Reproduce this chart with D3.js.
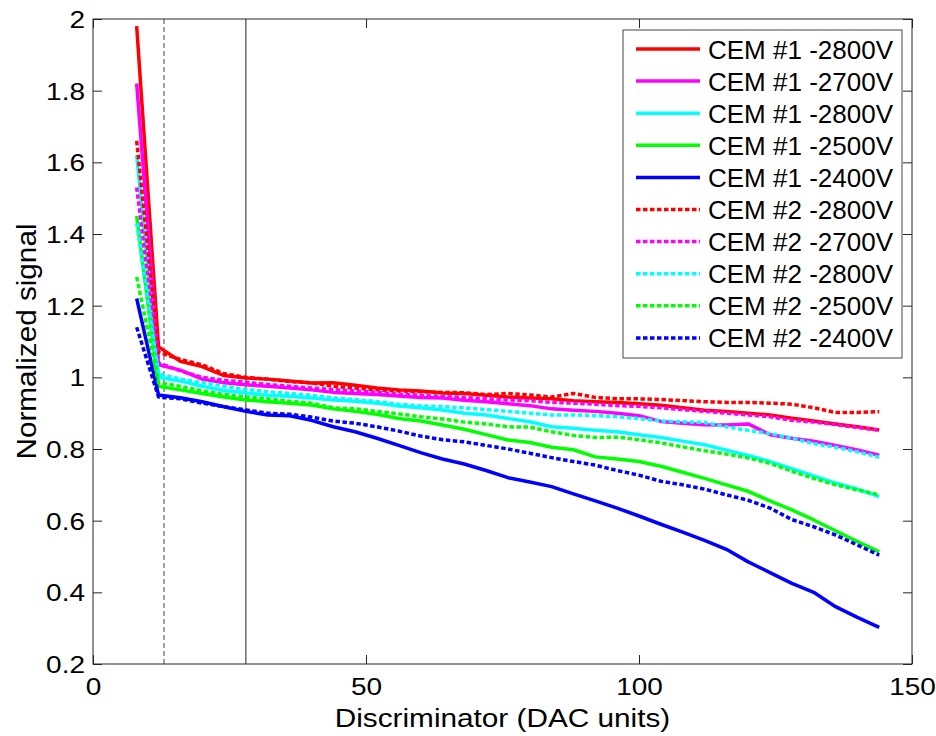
<!DOCTYPE html>
<html><head><meta charset="utf-8">
<script src="https://cdn.jsdelivr.net/npm/d3@7"></script>
<style>
body{margin:0;background:#fff;}
svg text{font-family:Arial,"Liberation Sans",Helvetica,sans-serif;fill:#000;}
</style></head><body>
<svg id="c" width="936" height="736"></svg>
<script>
const discrim = [8,12,16,20,24,28,32,36,40,44,48,52,56,60,64,68,72,76,80,84,88,92,96,100,104,108,112,116,120,124,128,132,136,140,144];
const cem1_2800a = [1.98,1.085,1.045,1.03,1.005,0.998,0.995,0.99,0.984,0.985,0.978,0.97,0.965,0.962,0.956,0.955,0.95,0.945,0.942,0.94,0.935,0.932,0.93,0.926,0.922,0.915,0.908,0.905,0.9,0.895,0.886,0.878,0.87,0.862,0.853];
const cem1_2700 = [1.82,1.035,1.02,0.995,0.985,0.979,0.975,0.97,0.965,0.958,0.955,0.952,0.948,0.944,0.942,0.936,0.932,0.926,0.921,0.912,0.908,0.905,0.9,0.893,0.877,0.872,0.868,0.867,0.87,0.84,0.83,0.822,0.81,0.797,0.783];
const cem1_2800b = [1.62,1.0,0.99,0.975,0.963,0.956,0.95,0.947,0.942,0.937,0.933,0.928,0.92,0.915,0.909,0.9,0.895,0.885,0.876,0.862,0.858,0.852,0.848,0.84,0.832,0.822,0.812,0.797,0.782,0.765,0.745,0.725,0.705,0.688,0.667];
const cem1_2500 = [1.45,0.975,0.965,0.955,0.945,0.937,0.932,0.928,0.923,0.912,0.905,0.897,0.885,0.878,0.867,0.855,0.84,0.825,0.818,0.805,0.798,0.778,0.772,0.765,0.752,0.735,0.718,0.7,0.682,0.655,0.63,0.602,0.572,0.542,0.513];
const cem1_2400 = [1.22,0.951,0.943,0.932,0.918,0.905,0.895,0.893,0.88,0.862,0.848,0.83,0.81,0.79,0.772,0.758,0.74,0.72,0.708,0.695,0.675,0.655,0.635,0.613,0.59,0.568,0.545,0.52,0.485,0.455,0.425,0.4,0.36,0.33,0.302];
const cem2_2800a = [1.66,1.07,1.05,1.035,1.01,1.0,0.995,0.988,0.985,0.975,0.97,0.965,0.962,0.96,0.958,0.957,0.952,0.955,0.951,0.945,0.955,0.944,0.94,0.94,0.938,0.935,0.932,0.93,0.93,0.928,0.925,0.915,0.902,0.902,0.904];
const cem2_2700 = [1.53,1.04,1.018,1.0,0.992,0.986,0.98,0.975,0.97,0.966,0.962,0.958,0.953,0.95,0.946,0.944,0.94,0.937,0.935,0.93,0.928,0.925,0.921,0.919,0.915,0.91,0.905,0.9,0.895,0.89,0.88,0.875,0.868,0.86,0.852];
const cem2_2800b = [1.43,1.01,0.995,0.985,0.975,0.966,0.96,0.955,0.95,0.943,0.938,0.932,0.925,0.92,0.918,0.915,0.91,0.905,0.9,0.895,0.895,0.893,0.89,0.885,0.878,0.876,0.874,0.862,0.852,0.843,0.83,0.815,0.805,0.792,0.777];
const cem2_2500 = [1.28,0.985,0.975,0.962,0.952,0.945,0.94,0.933,0.928,0.915,0.912,0.905,0.898,0.89,0.884,0.875,0.87,0.862,0.861,0.848,0.838,0.832,0.833,0.826,0.817,0.806,0.795,0.786,0.775,0.76,0.738,0.718,0.7,0.686,0.672];
const cem2_2400 = [1.14,0.945,0.94,0.928,0.918,0.909,0.9,0.897,0.889,0.878,0.872,0.862,0.85,0.836,0.826,0.82,0.81,0.8,0.788,0.776,0.765,0.755,0.74,0.727,0.71,0.7,0.688,0.672,0.657,0.635,0.603,0.583,0.56,0.532,0.504];
const seriesNames = ["CEM #1 -2800V","CEM #1 -2700V","CEM #1 -2800V","CEM #1 -2500V","CEM #1 -2400V","CEM #2 -2800V","CEM #2 -2700V","CEM #2 -2800V","CEM #2 -2500V","CEM #2 -2400V"];
const seriesValues = [cem1_2800a,cem1_2700,cem1_2800b,cem1_2500,cem1_2400,cem2_2800a,cem2_2700,cem2_2800b,cem2_2500,cem2_2400];
const seriesColors = ["#ff0000","#ff00ff","#00ffff","#00ff00","#0000ff","#ff0000","#ff00ff","#00ffff","#00ff00","#0000ff"];
const seriesDashed = [false,false,false,false,false,true,true,true,true,true];
const xTicks = [0,50,100,150];
const yTicks = [0.2,0.4,0.6,0.8,1,1.2,1.4,1.6,1.8,2];
const markerLines = [13,28];

const L=93, R=912, T=19, B=664;
const svg = d3.select("#c");
const x = d3.scaleLinear().domain([0,150]).range([L,R]);
const y = d3.scaleLinear().domain([0.2,2]).range([B,T]);
const axCol = "#262626";

// vertical markers
svg.append("line").attr("x1",x(markerLines[0])).attr("x2",x(markerLines[0])).attr("y1",T).attr("y2",B)
  .attr("stroke","#444").attr("stroke-width",1).attr("stroke-dasharray","5,3");
svg.append("line").attr("x1",x(markerLines[1])).attr("x2",x(markerLines[1])).attr("y1",T).attr("y2",B)
  .attr("stroke","#222").attr("stroke-width",1);

// lines
const line = d3.line().x((d,i)=>x(discrim[i])).y(d=>y(d));
seriesValues.forEach((vals,k)=>{
  svg.append("path").datum(vals).attr("d",line).attr("fill","none")
    .attr("stroke",seriesColors[k]).attr("stroke-width",3.5)
    .attr("stroke-linejoin","round")
    .attr("stroke-dasharray",seriesDashed[k]?"4.5,2.5":null);
});

// frame + ticks
const TL = 9;
function styleAxis(g){ g.select(".domain").remove(); g.selectAll(".tick line").attr("stroke",axCol); }
const xb = svg.append("g").attr("transform",`translate(0,${B})`)
  .call(d3.axisBottom(x).tickValues(xTicks).tickSize(-TL).tickPadding(0).tickFormat(d3.format("d")));
styleAxis(xb);
xb.selectAll(".tick text").attr("font-size",null).style("font-size","25px").attr("y",null).attr("dy",null)
  .attr("transform","translate(0,31) scale(1.12,0.92)");
const xt = svg.append("g").attr("transform",`translate(0,${T})`)
  .call(d3.axisTop(x).tickValues(xTicks).tickSize(-TL).tickFormat(""));
styleAxis(xt);
const yl = svg.append("g").attr("transform",`translate(${L},0)`)
  .call(d3.axisLeft(y).tickValues(yTicks).tickSize(-TL).tickFormat(d=>String(d)));
styleAxis(yl);
yl.selectAll(".tick text").style("font-size","25px").attr("x",null).attr("dy",null)
  .attr("text-anchor","end").attr("transform","translate(-8,8.5) scale(1.12,0.92)");
const yr = svg.append("g").attr("transform",`translate(${R},0)`)
  .call(d3.axisRight(y).tickValues(yTicks).tickSize(-TL).tickFormat(""));
styleAxis(yr);
svg.append("rect").attr("x",L).attr("y",T).attr("width",R-L).attr("height",B-T)
  .attr("fill","none").attr("stroke",axCol).attr("stroke-width",1);

// axis labels
svg.append("text").attr("text-anchor","middle").style("font-size","25px")
  .attr("transform",`translate(${(L+R)/2},727) scale(1.19,1)`).text("Discriminator (DAC units)");
svg.append("text").attr("text-anchor","middle").style("font-size","27px")
  .attr("transform",`translate(36,${(T+B)/2}) rotate(-90) scale(1.1,1)`).text("Normalized signal");

// legend
const lgX=623, lgY=30, lgW=279, lgH=328, rowH=32.1;
const lg = svg.append("g");
lg.append("rect").attr("x",lgX).attr("y",lgY).attr("width",lgW).attr("height",lgH)
  .attr("fill","#fff").attr("stroke","#444").attr("stroke-width",1);
seriesNames.forEach((nm,k)=>{
  const cy = 49 + k*rowH;
  lg.append("line").attr("x1",636).attr("x2",700).attr("y1",cy).attr("y2",cy)
    .attr("stroke",seriesColors[k]).attr("stroke-width",3.5)
    .attr("stroke-dasharray",seriesDashed[k]?"4.5,2.5":null);
  lg.append("text").attr("x",708).attr("y",cy+9.5).style("font-size","26px").text(nm);
});
</script></body></html>
